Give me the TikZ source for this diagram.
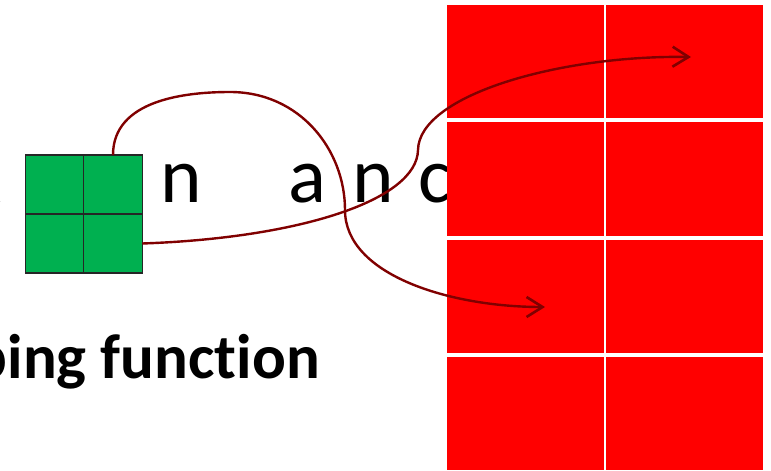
\documentclass[tikz,border=0pt]{standalone}
\usepackage{fontspec}
\setmainfont{Carlito}[Ligatures=NoCommon]
\usetikzlibrary{arrows.meta}
\definecolor{gcell}{HTML}{00B050}
\definecolor{rcell}{HTML}{FF0000}
\definecolor{arrowred}{HTML}{800000}
\tikzset{
  greencell/.style={draw=black!85, line width=1.3pt, fill=gcell, minimum width=58.5pt, minimum height=59pt, inner sep=0pt, outer sep=0pt},
  redcell/.style={fill=rcell, draw=none, inner sep=0pt, outer sep=0pt},
  bigletter/.style={anchor=base, inner sep=0pt, font=\fontsize{79}{79}\selectfont},
  titletext/.style={anchor=base east, inner sep=0pt, font=\fontsize{63}{63}\selectfont\bfseries},
  maparrow/.style={draw=arrowred, line width=2.4pt, -{Straight Barb[length=16pt,width=20pt,line width=2.6pt]}}
}
\begin{document}
\begin{tikzpicture}[x=1pt,y=-1pt]
\useasboundingbox (0,0) rectangle (771,471);
\clip (0,0) rectangle (771,471);
% text row
\node[bigletter, anchor=base east] (lx) at (1.5,202) {x};
\node[bigletter] (l1) at (181,202) {n};
\node[bigletter] (l2) at (307.5,202) {a};
\node[bigletter] (l3) at (373,202) {n};
\node[bigletter] (l4) at (435,202) {c};
\node[titletext] (title) at (320,378) {ping function};
% green grid
\node[greencell] (g11) at (54.5,184.5) {};
\node[greencell] (g12) at (113,184.5) {};
\node[greencell] (g21) at (54.5,243.5) {};
\node[greencell] (g22) at (113,243.5) {};
% red grid
\node[redcell, minimum width=157pt, minimum height=113pt] (r11) at (525.5,61.5) {};
\node[redcell, minimum width=157pt, minimum height=113pt] (r12) at (684.5,61.5) {};
\node[redcell, minimum width=157pt, minimum height=114pt] (r21) at (525.5,179) {};
\node[redcell, minimum width=157pt, minimum height=114pt] (r22) at (684.5,179) {};
\node[redcell, minimum width=157pt, minimum height=113pt] (r31) at (525.5,296.5) {};
\node[redcell, minimum width=157pt, minimum height=113pt] (r32) at (684.5,296.5) {};
\node[redcell, minimum width=157pt, minimum height=113pt] (r41) at (525.5,413.5) {};
\node[redcell, minimum width=157pt, minimum height=113pt] (r42) at (684.5,413.5) {};
% arrow targets
\coordinate (t1) at (545,307);
\coordinate (t2) at (691,57);
% connectors
\draw[maparrow] (g12.north) .. controls (113,100) and (185,92) .. (230,92)
   .. controls (300,92) and (345,150) .. (345,210)
   .. controls (345,275) and (450,307) .. (t1);
\draw[maparrow] (g22.east) .. controls (300,238) and (417,200) .. (418,150)
   .. controls (419,95) and (560,55) .. (t2);
\end{tikzpicture}
\end{document}
